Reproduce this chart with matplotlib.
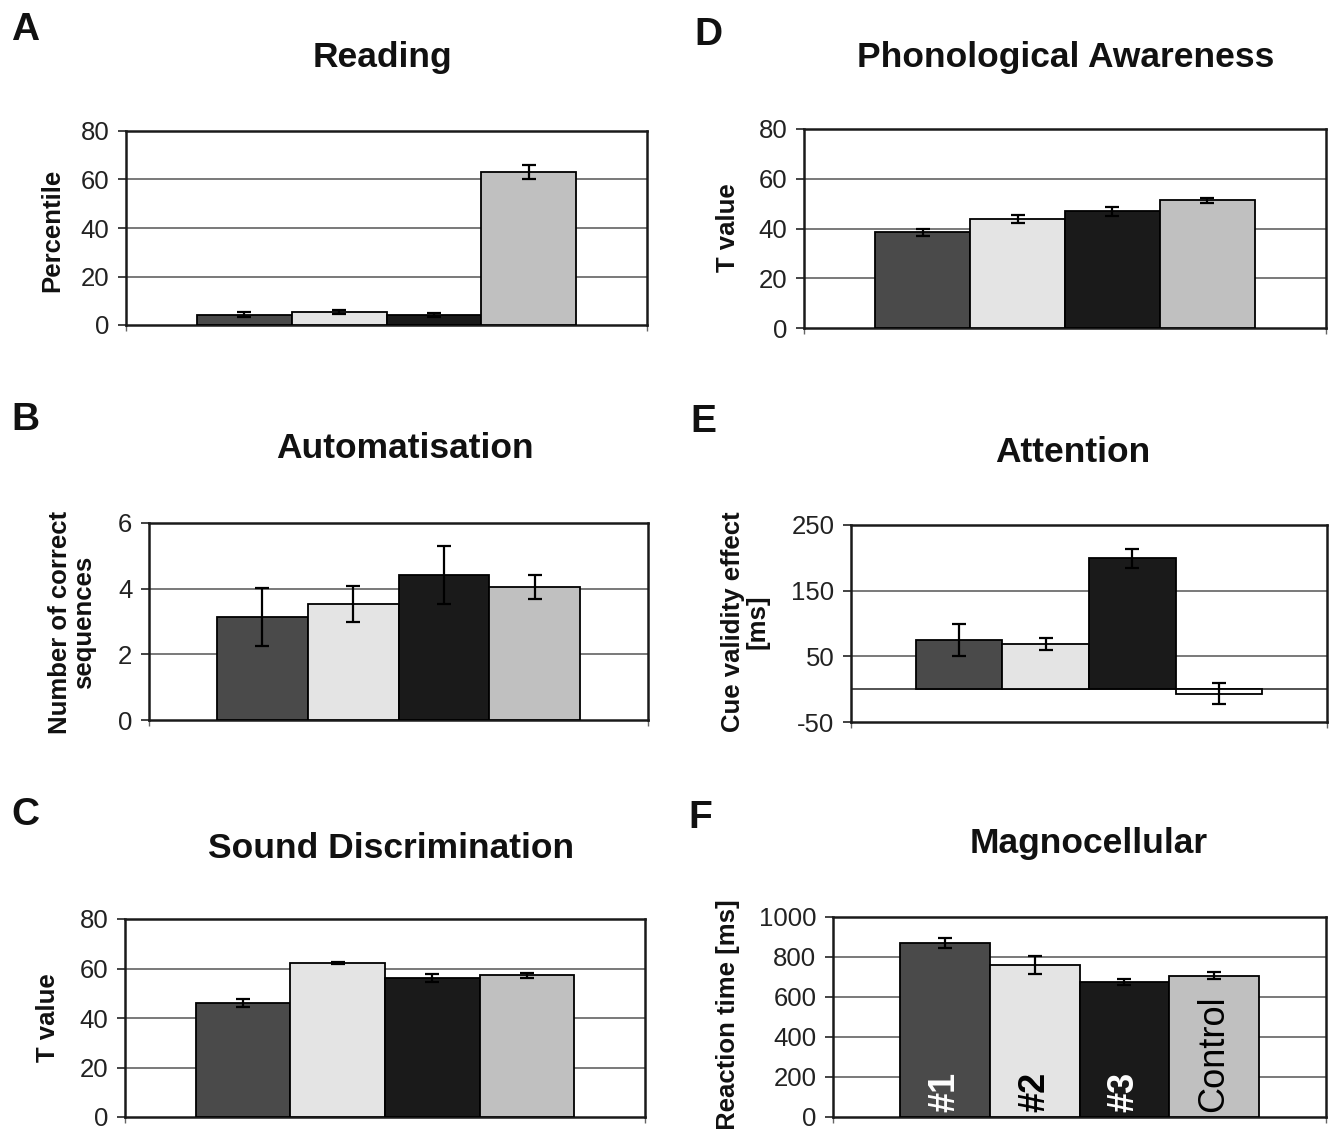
import matplotlib.pyplot as plt

plt.rcParams['font.family'] = ['Liberation Sans', 'DejaVu Sans']
plt.rcParams['axes.unicode_minus'] = False

W, H = 1330, 1129

groups = ['#1', '#2', '#3', 'Control']
colors = ['#4a4a4a', '#e4e4e4', '#1a1a1a', '#c0c0c0']

# values
reading = [4.3, 5.4, 4.3, 63.0]
reading_err = [1.0, 0.8, 0.8, 3.0]
autom = [3.13, 3.53, 4.42, 4.05]
autom_err = [0.89, 0.55, 0.88, 0.37]
sound = [45.9, 62.3, 56.2, 57.3]
sound_err = [1.6, 0.5, 1.5, 1.0]
phono = [38.5, 43.8, 46.9, 51.3]
phono_err = [1.5, 1.7, 1.8, 1.1]
attention = [74.5, 69.0, 199.0, -6.7]
attention_err = [24, 9.6, 14, 16]
magno = [870, 762, 675, 707]
magno_err = [27, 45, 14, 18]

# panel: letter, title, ylabel, values, errors, yticks, box px (l, r, t, b), letter xy, title xy, ylabel xy
panels = [
    ('A', 'Reading', 'Percentile', reading, reading_err, [0, 20, 40, 60, 80],
     (126, 647, 131, 325), (25, 30), (382, 57), (52, 230)),
    ('B', 'Automatisation', 'Number of correct\nsequences', autom, autom_err, [0, 2, 4, 6],
     (149, 648, 523, 720), (25, 420), (405, 448), (72, 622)),
    ('C', 'Sound Discrimination', 'T value', sound, sound_err, [0, 20, 40, 60, 80],
     (125, 645, 919, 1117), (25, 815), (391, 849), (48, 1018)),
    ('D', 'Phonological Awareness', 'T value', phono, phono_err, [0, 20, 40, 60, 80],
     (804, 1326, 129, 328), (708, 35), (1066, 57), (728, 228)),
    ('E', 'Attention', 'Cue validity effect\n[ms]', attention, attention_err, [-50, 50, 150, 250],
     (851, 1327, 525, 722), (703, 422), (1073, 452), (745, 622)),
    ('F', 'Magnocellular', 'Reaction time [ms]', magno, magno_err, [0, 200, 400, 600, 800, 1000],
     (833, 1326, 917, 1117), (700, 818), (1089, 843), (728, 1015)),
]

fig = plt.figure(figsize=(W / 100, H / 100), dpi=100)

for letter, title, ylabel, vals, errs, yticks, box, lxy, txy, yxy in panels:
    l, r, t, b = box
    ax = fig.add_axes([l / W, 1 - b / H, (r - l) / W, (b - t) / H])
    x = range(len(vals))
    bar_colors = [c if v >= 0 else 'white' for c, v in zip(colors, vals)]
    ax.bar(x, vals, width=1.0, color=bar_colors, edgecolor='black', linewidth=1.3, zorder=3)
    ax.errorbar(x, vals, yerr=errs, fmt='none', ecolor='black', elinewidth=1.6,
                capsize=5, capthick=1.6, zorder=4)
    ax.set_xlim(-1.25, 4.25)
    ax.set_ylim(yticks[0], yticks[-1])
    ax.set_yticks(yticks)
    ax.set_xticks([-1.25, 4.25])
    ax.set_xticklabels([])
    for yv in yticks[1:-1]:
        ax.axhline(yv, color='#6e6e6e', linewidth=1.3, zorder=1)
    if yticks[0] < 0:
        ax.axhline(0, color='#444444', linewidth=1.3, zorder=2)
    ax.tick_params(axis='y', direction='out', length=6, width=1.2, labelsize=18.5,
                   pad=6, colors='#222222', labelcolor='#222222')
    ax.tick_params(axis='x', direction='out', length=4, width=1.0, colors='#666666')
    for s in ax.spines.values():
        s.set_linewidth(1.8)
        s.set_color('#1a1a1a')
    fig.text(lxy[0] / W, 1 - lxy[1] / H, letter, fontsize=28, fontweight='bold',
             ha='center', va='center', color='#111111')
    fig.text(txy[0] / W, 1 - txy[1] / H, title, fontsize=25.5, fontweight='bold',
             ha='center', va='center', color='#111111')
    fig.text(yxy[0] / W, 1 - yxy[1] / H, ylabel, fontsize=18.5, fontweight='bold',
             rotation=90, ha='center', va='center', linespacing=1.05, color='#111111')
    if letter == 'F':
        for i, g in enumerate(groups):
            tc = 'white' if i in (0, 2) else 'black'
            ax.text(i, 25, g, rotation=90, ha='center', va='bottom', fontsize=26,
                    color=tc, fontweight='bold' if i < 3 else 'normal', zorder=5)

fig.savefig('out.png', dpi=100, facecolor='white')
